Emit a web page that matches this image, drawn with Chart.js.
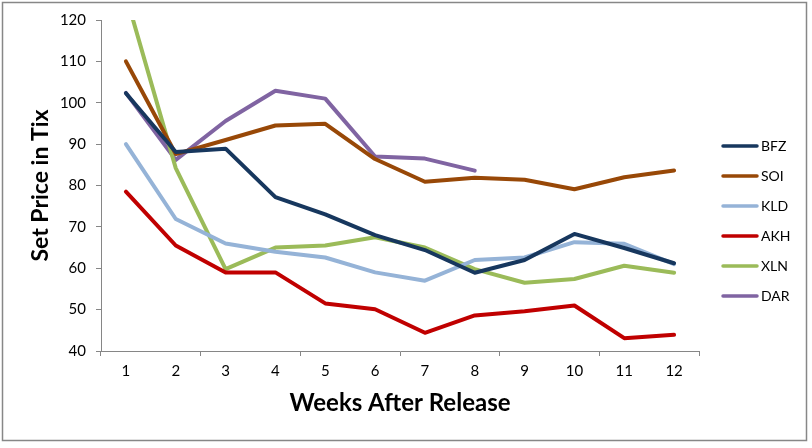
<!DOCTYPE html>
<html>
<head>
<meta charset="utf-8">
<script src="https://cdn.jsdelivr.net/npm/chart.js@4/dist/chart.umd.min.js"></script>
<style>
  html, body { margin: 0; padding: 0; background: #fff; }
  #wrap { width: 812px; height: 448px; position: relative; }
</style>
</head>
<body>
<div id="wrap"><canvas id="chart"></canvas></div>
<script>
const weeks = ['1', '2', '3', '4', '5', '6', '7', '8', '9', '10', '11', '12'];

const bfz = [102.3, 88.1, 88.9, 77.2, 73, 68, 64.4, 58.9, 62, 68.3, 64.9, 61.2];
const soi = [110, 87.6, 91, 94.5, 94.9, 86.4, 80.9, 81.9, 81.4, 79.1, 82, 83.6];
const kld = [90, 71.9, 66, 64, 62.6, 59, 57, 62, 62.6, 66.3, 65.9, 61];
const akh = [78.5, 65.5, 59, 59, 51.5, 50.1, 44.4, 48.6, 49.6, 51, 43.1, 43.9];
const xln = [126, 84.2, 59.8, 65, 65.5, 67.5, 65, 59.8, 56.5, 57.4, 60.6, 58.9];
const dar = [102.4, 86.2, 95.6, 102.9, 101, 87, 86.5, 83.6, null, null, null, null];

const seriesNames = ['BFZ', 'SOI', 'KLD', 'AKH', 'XLN', 'DAR'];
const seriesColors = ['#17375E', '#984807', '#95B3D7', '#C00000', '#9BBB59', '#8064A2'];
const seriesData = [bfz, soi, kld, akh, xln, dar];

const yTicks = { min: 40, max: 120, step: 10 };

const FONT = "Lato, 'Open Sans', sans-serif";
const AXIS_GRAY = '#868686';

// frame round the whole chart, like the spreadsheet export
const framePlugin = {
  id: 'frame',
  beforeDraw(chart) {
    const { ctx, width, height } = chart;
    ctx.save();
    ctx.fillStyle = '#fff';
    ctx.fillRect(0, 0, width, height);
    ctx.strokeStyle = '#878787';
    ctx.lineWidth = 1.5;
    ctx.strokeRect(2.5, 2.5, width - 8, height - 10);
    ctx.restore();
  }
};

// legend on the right, one line swatch per dataset
const sideLegend = {
  id: 'sideLegend',
  afterDraw(chart) {
    const { ctx, chartArea } = chart;
    const x0 = chartArea.right + 24;
    const top = 146;
    ctx.save();
    ctx.font = '14px ' + FONT;
    ctx.textBaseline = 'middle';
    ctx.textAlign = 'left';
    chart.data.datasets.forEach((ds, i) => {
      const y = top + i * 30;
      ctx.strokeStyle = ds.borderColor;
      ctx.lineWidth = 3.5;
      ctx.lineCap = 'round';
      ctx.beginPath();
      ctx.moveTo(x0, y);
      ctx.lineTo(x0 + 34, y);
      ctx.stroke();
      ctx.fillStyle = '#000';
      ctx.fillText(ds.label, x0 + 38, y + 0.5);
    });
    ctx.restore();
  }
};

const datasets = seriesNames.map((name, i) => ({
  label: name,
  data: seriesData[i],
  borderColor: seriesColors[i],
  backgroundColor: seriesColors[i],
  borderWidth: 4,
  borderJoinStyle: 'round',
  borderCapStyle: 'round',
  pointRadius: 0,
  pointHoverRadius: 0,
  tension: 0,
  fill: false,
  spanGaps: false,
  clip: 0,
}));

new Chart(document.getElementById('chart'), {
  type: 'line',
  data: { labels: weeks, datasets },
  options: {
    responsive: true,
    maintainAspectRatio: false,
    animation: false,
    devicePixelRatio: 1,
    layout: { padding: { top: 20, right: 113, left: 0, bottom: 0 } },
    plugins: {
      legend: { display: false },
      tooltip: { enabled: false },
    },
    scales: {
      x: {
        type: 'category',
        offset: true,
        afterFit(scale) { scale.height = 97; },
        grid: {
          offset: true,
          drawOnChartArea: false,
          drawTicks: true,
          tickLength: 5,
          tickColor: (c) => (c.index === undefined || c.index % 2 === 0) ? AXIS_GRAY : 'rgba(0,0,0,0)',
        },
        border: { display: true, color: AXIS_GRAY, width: 1 },
        ticks: {
          color: '#000',
          font: { family: FONT, size: 15 },
          padding: 6,
          maxRotation: 0,
          autoSkip: false,
        },
        title: {
          display: true,
          text: 'Weeks After Release',
          color: '#000',
          font: { family: FONT, size: 24, weight: 'bold' },
          padding: { top: 0, bottom: 30 },
        },
      },
      y: {
        min: yTicks.min,
        max: yTicks.max,
        afterFit(scale) { scale.width = 101; },
        grid: {
          drawOnChartArea: false,
          drawTicks: true,
          tickLength: 5,
          tickColor: AXIS_GRAY,
        },
        border: { display: true, color: AXIS_GRAY, width: 1 },
        ticks: {
          stepSize: yTicks.step,
          color: '#000',
          font: { family: FONT, size: 15 },
          padding: 10,
        },
        title: {
          display: true,
          text: 'Set Price in Tix',
          color: '#000',
          font: { family: FONT, size: 23, weight: 'bold' },
          padding: { top: 27, bottom: 0 },
        },
      },
    },
  },
  plugins: [framePlugin, sideLegend],
});
</script>
</body>
</html>
